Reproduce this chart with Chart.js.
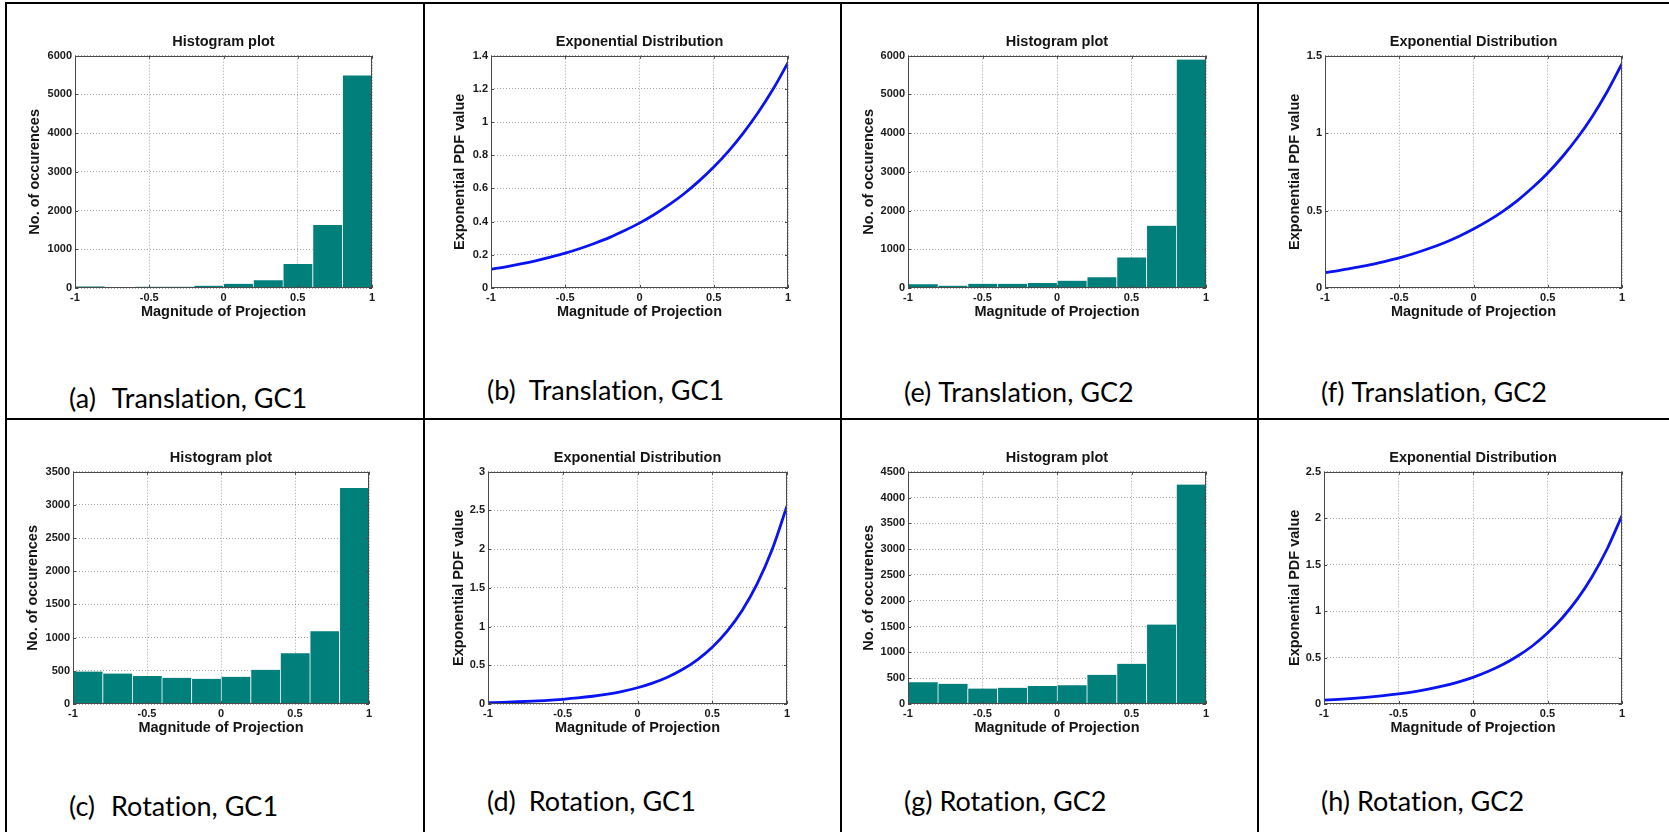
<!DOCTYPE html>
<html><head><meta charset="utf-8">
<script src="https://cdn.jsdelivr.net/npm/chart.js@4.4.1/dist/chart.umd.min.js"></script>
<style>
html,body{margin:0;padding:0;background:#fff;width:1669px;height:832px;overflow:hidden;position:relative;}
.ln{position:absolute;background:#000;}
canvas{position:absolute;}
.cap{position:absolute;font-family:Lato,'Open Sans',sans-serif;font-size:27px;line-height:32px;color:#000;white-space:pre;font-variant-ligatures:none;font-feature-settings:"liga" 0,"clig" 0;}
</style></head><body>
<div class="ln" style="left:5px;top:2px;width:1664px;height:2px"></div>
<div class="ln" style="left:5px;top:418px;width:1664px;height:2px"></div>
<div class="ln" style="left:5px;top:2px;width:2px;height:830px"></div>
<div class="ln" style="left:423px;top:2px;width:2px;height:830px"></div>
<div class="ln" style="left:840px;top:2px;width:2px;height:830px"></div>
<div class="ln" style="left:1257px;top:2px;width:2px;height:830px"></div>
<script>
// ---- data ----
const binCenters = [-0.9, -0.7, -0.5, -0.3, -0.1, 0.1, 0.3, 0.5, 0.7, 0.9];
const histTransGC1 = [40, 10, 35, 35, 60, 110, 200, 620, 1630, 5490];
const histTransGC2 = [100, 60, 110, 110, 130, 190, 280, 790, 1610, 5900];
const histRotGC1 = [490, 460, 420, 395, 380, 410, 515, 765, 1095, 3255];
const histRotGC2 = [420, 390, 300, 315, 350, 365, 565, 780, 1540, 4250];

const pdfX = [-1, -0.9, -0.8, -0.7, -0.6, -0.5, -0.4, -0.3, -0.2, -0.1, 0, 0.1, 0.2, 0.3, 0.4, 0.5, 0.6, 0.7, 0.8, 0.9, 1];
const pdfTransGC1 = [0.113, 0.128, 0.145, 0.164, 0.186, 0.210, 0.238, 0.270, 0.305, 0.346, 0.391, 0.443, 0.502, 0.568, 0.644, 0.729, 0.825, 0.935, 1.059, 1.199, 1.358];
const pdfTransGC2 = [0.100, 0.114, 0.131, 0.149, 0.171, 0.195, 0.223, 0.255, 0.291, 0.333, 0.381, 0.435, 0.497, 0.568, 0.650, 0.742, 0.849, 0.970, 1.108, 1.267, 1.448];
const pdfRotGC1 = [0.017, 0.022, 0.029, 0.037, 0.047, 0.061, 0.078, 0.100, 0.128, 0.164, 0.210, 0.270, 0.346, 0.445, 0.571, 0.733, 0.941, 1.208, 1.551, 1.992, 2.557];
const pdfRotGC2 = [0.041, 0.049, 0.060, 0.073, 0.089, 0.108, 0.131, 0.160, 0.194, 0.236, 0.287, 0.349, 0.424, 0.516, 0.627, 0.763, 0.928, 1.128, 1.372, 1.668, 2.028];

const xTickLabels = ['-1', '-0.5', '0', '0.5', '1'];
const yTicks6000 = ['0', '1000', '2000', '3000', '4000', '5000', '6000'];
const yTicks3500 = ['0', '500', '1000', '1500', '2000', '2500', '3000', '3500'];
const yTicks4500 = ['0', '500', '1000', '1500', '2000', '2500', '3000', '3500', '4000', '4500'];
const yTicks14 = ['0', '0.2', '0.4', '0.6', '0.8', '1', '1.2', '1.4'];
const yTicks15 = ['0', '0.5', '1', '1.5'];
const yTicks30 = ['0', '0.5', '1', '1.5', '2', '2.5', '3'];
const yTicks25 = ['0', '0.5', '1', '1.5', '2', '2.5'];

const histTitle = 'Histogram plot';
const pdfTitle = 'Exponential Distribution';
const xTitle = 'Magnitude of Projection';
const histYTitle = 'No. of occurences';
const pdfYTitle = 'Exponential PDF value';

// ---- layout / style ----
const FONT = "'Liberation Sans', Arial, Helvetica, sans-serif";
const GRID = 'rgba(90,90,90,0.55)';
const CW = 410, CH = 330;

const panels = [
  {kind:'hist', values:histTransGC1, yMax:6000, yStep:1000, yLabels:yTicks6000, left:7,    top:4,   plotL:68, plotR:365, yLab:28, cap:'(a)', capText:'Translation, GC1', gap:16, capTop:382},
  {kind:'pdf',  values:pdfTransGC1,  yMax:1.4,  yStep:0.2,  yLabels:yTicks14,   left:425,  top:4,   plotL:66, plotR:363, yLab:35, cap:'(b)', capText:'Translation, GC1', gap:13, capTop:374},
  {kind:'hist', values:histTransGC2, yMax:6000, yStep:1000, yLabels:yTicks6000, left:842,  top:4,   plotL:66, plotR:364, yLab:27, cap:'(e)', capText:'Translation, GC2', gap:7,  capTop:376},
  {kind:'pdf',  values:pdfTransGC2,  yMax:1.5,  yStep:0.5,  yLabels:yTicks15,   left:1259, top:4,   plotL:66, plotR:363, yLab:36, cap:'(f)', capText:'Translation, GC2', gap:7,  capTop:376},
  {kind:'hist', values:histRotGC1,   yMax:3500, yStep:500,  yLabels:yTicks3500, left:7,    top:420, plotL:66, plotR:362, yLab:26, cap:'(c)', capText:'Rotation, GC1',    gap:16, capTop:790},
  {kind:'pdf',  values:pdfRotGC1,    yMax:3,    yStep:0.5,  yLabels:yTicks30,   left:425,  top:420, plotL:63, plotR:362, yLab:34, cap:'(d)', capText:'Rotation, GC1',    gap:13, capTop:785},
  {kind:'hist', values:histRotGC2,   yMax:4500, yStep:500,  yLabels:yTicks4500, left:842,  top:420, plotL:66, plotR:364, yLab:27, cap:'(g)', capText:'Rotation, GC2',    gap:7,  capTop:785},
  {kind:'pdf',  values:pdfRotGC2,    yMax:2.5,  yStep:0.5,  yLabels:yTicks25,   left:1259, top:420, plotL:65, plotR:363, yLab:36, cap:'(h)', capText:'Rotation, GC2',    gap:7,  capTop:785}
];

const boxPlugin = {
  id: 'matlabBox',
  afterDatasetsDraw(chart) {
    const {ctx, chartArea: a, scales} = chart;
    ctx.save();
    ctx.strokeStyle = '#4a4a4a';
    ctx.lineWidth = 1;
    ctx.strokeRect(Math.round(a.left) + 0.5, Math.round(a.top) + 0.5, Math.round(a.right - a.left) - 1, Math.round(a.bottom - a.top) - 1);
    ctx.beginPath();
    scales.x.ticks.forEach(t => {
      const px = Math.round(scales.x.getPixelForValue(t.value)) + 0.5;
      ctx.moveTo(px, a.bottom); ctx.lineTo(px, a.bottom - 3);
      ctx.moveTo(px, a.top); ctx.lineTo(px, a.top + 3);
    });
    scales.y.ticks.forEach(t => {
      const py = Math.round(scales.y.getPixelForValue(t.value)) + 0.5;
      ctx.moveTo(a.left, py); ctx.lineTo(a.left + 3, py);
      ctx.moveTo(a.right, py); ctx.lineTo(a.right - 3, py);
    });
    ctx.stroke();
    ctx.restore();
  }
};

function makePanel(p) {
  const cv = document.createElement('canvas');
  cv.width = CW; cv.height = CH;
  cv.style.left = p.left + 'px'; cv.style.top = p.top + 'px';
  cv.style.width = CW + 'px'; cv.style.height = CH + 'px';
  document.body.appendChild(cv);

  const cap = document.createElement('div');
  cap.className = 'cap';
  cap.style.left = (p.left + 62) + 'px';
  cap.style.top = p.capTop + 'px';
  const lab = document.createElement('span');
  lab.textContent = p.cap;
  lab.style.marginRight = p.gap + 'px';
  cap.appendChild(lab);
  cap.appendChild(document.createTextNode(p.capText));
  document.body.appendChild(cap);

  const isHist = p.kind === 'hist';
  const dataset = isHist ? {
    data: binCenters.map((x, i) => ({x: x, y: p.values[i]})),
    backgroundColor: '#007f7b',
    borderColor: 'rgba(235,245,244,0.9)',
    borderWidth: {left: 1, right: 0, top: 0, bottom: 0},
    barPercentage: 1, categoryPercentage: 1
  } : {
    data: pdfX.map((x, i) => ({x: x, y: p.values[i]})),
    borderColor: '#0a14f0', borderWidth: 2.8, pointRadius: 0,
    cubicInterpolationMode: 'monotone', fill: false
  };
  const tickFont = {family: FONT, size: 11, weight: 'bold'};
  const titleFont = {family: FONT, size: 14.5, weight: 'bold', lineHeight: 1.2};
  new Chart(cv, {
    type: isHist ? 'bar' : 'line',
    data: {datasets: [dataset]},
    plugins: [boxPlugin],
    options: {
      responsive: false, animation: false, devicePixelRatio: 1,
      layout: {padding: {left: 0, right: CW - p.plotR, top: 0, bottom: 0}},
      plugins: {
        legend: {display: false}, tooltip: {enabled: false},
        title: {display: true, text: isHist ? histTitle : pdfTitle, fullSize: false, color: '#151515',
                font: titleFont, padding: {top: 29.6, bottom: 4.7}}
      },
      scales: {
        x: {
          type: 'linear', min: -1, max: 1, offset: false,
          ticks: {stepSize: 0.5, autoSkip: false, maxRotation: 0, color: '#1a1a1a', font: tickFont, padding: 3,
                  callback: (v, i) => xTickLabels[i]},
          grid: {color: GRID, lineWidth: 1, drawTicks: false, offset: false},
          border: {display: false, dash: [1, 2]},
          title: {display: true, text: xTitle, color: '#151515', font: titleFont, padding: {top: 0, bottom: 13.6}},
          afterFit(s) { s.height = CH - 284; s.paddingLeft = 0; s.paddingRight = 0; }
        },
        y: {
          type: 'linear', min: 0, max: p.yMax,
          ticks: {stepSize: p.yStep, autoSkip: false, color: '#1a1a1a', font: tickFont, padding: 3,
                  callback: (v, i) => p.yLabels[i]},
          grid: {color: GRID, lineWidth: 1, drawTicks: false},
          border: {display: false, dash: [1, 2]},
          title: {display: true, text: isHist ? histYTitle : pdfYTitle, color: '#151515', font: titleFont,
                  padding: {top: p.yLab - 8.7, bottom: 0}},
          afterFit(s) { s.width = p.plotL; s.paddingTop = 0; s.paddingBottom = 0; }
        }
      }
    }
  });
}
panels.forEach(makePanel);
</script>
</body></html>
